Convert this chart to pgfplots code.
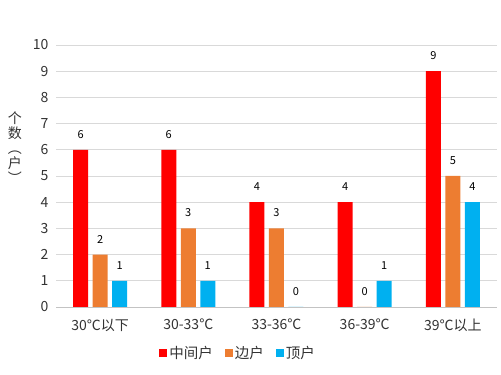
\documentclass[border=0pt]{standalone}
\usepackage{fontspec}
\setmainfont{Noto Sans CJK SC}
\usepackage{pgfplots}
\pgfplotsset{compat=1.18}
\definecolor{cRed}{RGB}{255,0,0}
\definecolor{cOrange}{RGB}{237,125,49}
\definecolor{cBlue}{RGB}{0,176,240}
\definecolor{cGrid}{RGB}{217,217,217}
\begin{document}
\begin{tikzpicture}
\path[use as bounding box] (0,0) rectangle (501pt,375pt);
\begin{axis}[
  at={(56pt,68pt)}, anchor=south west,
  scale only axis, width=441pt, height=262pt,
  ybar=4.5pt, bar width=15pt,
  xmin=-0.5, xmax=4.5, ymin=0, ymax=10,
  xtick={0,1,2,3,4},
  xticklabels={30℃以下,30-33℃,33-36℃,36-39℃,39℃以上},
  ytick={0,1,...,10},
  ymajorgrids, grid style={cGrid, line width=0.8pt},
  axis x line*=bottom, axis y line*=left,
  y axis line style={draw=none},
  x axis line style={cGrid!90!black, line width=0.8pt},
  xtick style={draw=none}, ytick style={draw=none},
  /pgf/number format/assume math mode=true,
  tick label style={font=\fontsize{14}{16}\selectfont, text=black!80},
  xticklabel style={yshift=-4pt},
  yticklabel style={xshift=-4pt},
  nodes near coords,
  nodes near coords style={font=\fontsize{11}{12}\selectfont, text=black, yshift=8pt},
  legend style={at={(0.413,-0.176)}, anchor=center, draw=none, legend columns=-1,
    font=\fontsize{14.5}{16}\selectfont, text=black!80,
    /tikz/every even column/.append style={column sep=10pt}},
  legend image code/.code={\fill[#1] (0pt,-4pt) rectangle (8pt,4pt);},
  clip=false,
]
\addplot[fill=cRed, draw=none] coordinates {(0,6) (1,6) (2,4) (3,4) (4,9)};
\addplot[fill=cOrange, draw=none] coordinates {(0,2) (1,3) (2,3) (3,0) (4,5)};
\addplot[fill=cBlue, draw=none] coordinates {(0,1) (1,1) (2,0) (3,1) (4,4)};
\legend{中间户,边户,顶户}
\node[font=\fontsize{14}{15}\selectfont, text=black!80, align=center, inner sep=0pt]
  at (rel axis cs:-0.093,0.607) {个\\数\\︵\\户\\︶};
\end{axis}
\end{tikzpicture}
\end{document}
